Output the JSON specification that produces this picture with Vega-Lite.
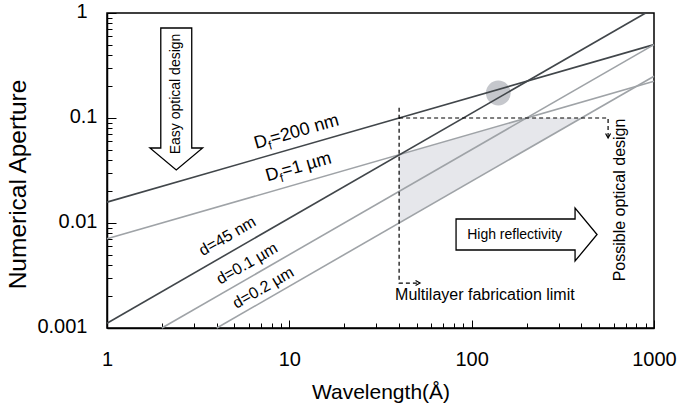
{
  "$schema": "https://vega.github.io/schema/vega-lite/v6.json",
  "width": 547,
  "height": 315,
  "autosize": {"type": "none"},
  "padding": {"left": 107, "top": 13, "right": 25, "bottom": 78},
  "background": "white",
  "config": {
    "font": "Liberation Sans",
    "view": {"stroke": "black", "strokeWidth": 1.5},
    "axis": {"grid": false, "domainColor": "black", "domainWidth": 1.5, "tickColor": "black", "tickWidth": 1, "labelColor": "black", "titleColor": "black", "titleFontWeight": "normal", "labelFont": "Liberation Sans", "titleFont": "Liberation Sans"},
    "text": {"font": "Liberation Sans", "color": "black"}
  },
  "datasets": {
    "lines": [
      {"s": "Df200", "x": 1, "y": 0.01581}, {"s": "Df200", "x": 1000, "y": 0.5},
      {"s": "Df1", "x": 1, "y": 0.00707}, {"s": "Df1", "x": 1000, "y": 0.2236},
      {"s": "d45", "x": 1, "y": 0.001111}, {"s": "d45", "x": 900, "y": 1},
      {"s": "d01", "x": 2, "y": 0.001}, {"s": "d01", "x": 1000, "y": 0.5},
      {"s": "d02", "x": 4, "y": 0.001}, {"s": "d02", "x": 1000, "y": 0.25}
    ],
    "region": [
      {"x": 40, "y": 0.01, "y2": 0.04472},
      {"x": 200, "y": 0.05, "y2": 0.1},
      {"x": 400, "y": 0.1, "y2": 0.1}
    ],
    "dashes": [
      {"seg": "h", "o": 1, "x": 40, "y": 0.1}, {"seg": "h", "o": 2, "x": 560, "y": 0.1}, {"seg": "h", "o": 3, "x": 560, "y": 0.066},
      {"seg": "v", "o": 1, "x": 40, "y": 0.125}, {"seg": "v", "o": 2, "x": 40, "y": 0.00268}, {"seg": "v", "o": 3, "x": 51, "y": 0.00268}
    ],
    "headDown": [{"x": 560, "y": 0.0645}],
    "headRight": [{"x": 52.1, "y": 0.00268}],
    "spot": [{"x": 140, "y": 0.173}],
    "arrowRight": [{"x": 200, "y": 0.00777}],
    "arrowDown": [{"x": 2.398, "y": 0.1517}],
    "labD": [
      {"t": "D", "x": 6.565, "y": 0.0507}, {"t": "=200 nm", "x": 8.045, "y": 0.0561},
      {"t": "D", "x": 7.59, "y": 0.02485}, {"t": "=1 µm", "x": 9.30, "y": 0.02751}
    ],
    "labSub": [{"t": "f", "x": 7.80, "y": 0.0499}, {"t": "f", "x": 9.03, "y": 0.02446}],
    "labd": [
      {"t": "d=45 nm", "x": 4.58, "y": 0.00747},
      {"t": "d=0.1 µm", "x": 5.86, "y": 0.0041},
      {"t": "d=0.2 µm", "x": 7.2, "y": 0.002415}
    ],
    "labHigh": [{"t": "High reflectivity", "x": 172, "y": 0.00769}],
    "labMulti": [{"t": "Multilayer fabrication limit", "x": 38.0, "y": 0.00204}],
    "labEasy": [{"t": "Easy optical design", "x": 2.398, "y": 0.1694}],
    "labPossible": [{"t": "Possible optical design", "x": 651, "y": 0.01656}]
  },
  "encoding": {
    "x": {
      "field": "x", "type": "quantitative",
      "scale": {"type": "log", "domain": [1, 1000], "nice": false},
      "axis": {
        "title": "Wavelength(Å)",
        "values": [1, 2, 3, 4, 5, 6, 7, 8, 9, 10, 20, 30, 40, 50, 60, 70, 80, 90, 100, 200, 300, 400, 500, 600, 700, 800, 900, 1000],
        "labelExpr": "indexof([1,10,100,1000], datum.value) >= 0 ? format(datum.value, '~g') : ''",
        "tickSize": {"condition": {"test": "indexof([1,10,100,1000], datum.value) >= 0", "value": -8}, "value": -5},
        "labelPadding": 45,
        "labelBaseline": "alphabetic",
        "labelFontSize": 20,
        "labelOverlap": false,
        "labelFlush": false,
        "titleFontSize": 21,
        "titleX": 273.5,
        "titleY": 70,
        "titleBaseline": "alphabetic"
      }
    },
    "y": {
      "field": "y", "type": "quantitative",
      "scale": {"type": "log", "domain": [0.001, 1], "nice": false},
      "axis": {
        "title": "Numerical Aperture",
        "values": [0.001, 0.002, 0.003, 0.004, 0.005, 0.006, 0.007, 0.008, 0.009, 0.01, 0.02, 0.03, 0.04, 0.05, 0.06, 0.07, 0.08, 0.09, 0.1, 0.2, 0.3, 0.4, 0.5, 0.6, 0.7, 0.8, 0.9, 1],
        "labelExpr": "indexof([0.001,0.01,0.1,1], datum.value) >= 0 ? format(datum.value, '~g') : ''",
        "tickSize": {"condition": {"test": "indexof([0.001,0.01,0.1,1], datum.value) >= 0", "value": -9}, "value": -5},
        "labelPadding": {"condition": {"test": "datum.value == 1 || datum.value == 0.001", "value": 29}, "value": 19},
        "labelOffset": -2,
        "labelFontSize": 20,
        "labelOverlap": false,
        "labelFlush": false,
        "titleFontSize": 24.5,
        "titleX": -82,
        "titleY": 171,
        "titleBaseline": "alphabetic"
      }
    }
  },
  "layer": [
    {
      "data": {"name": "region"},
      "mark": {"type": "area", "color": "#e6e7eb", "opacity": 1},
      "encoding": {"y2": {"field": "y2"}}
    },
    {
      "data": {"name": "spot"},
      "mark": {"type": "circle", "size": 616, "color": "#c5c7cc", "opacity": 1}
    },
    {
      "data": {"name": "lines"},
      "mark": {"type": "line", "strokeWidth": 1.6},
      "encoding": {
        "color": {"field": "s", "type": "nominal", "legend": null,
          "scale": {"domain": ["Df200", "Df1", "d45", "d01", "d02"], "range": ["#41464a", "#9fa3a7", "#41464a", "#9fa3a7", "#9fa3a7"]}}
      }
    },
    {
      "data": {"name": "dashes"},
      "mark": {"type": "line", "color": "black", "strokeWidth": 1.2, "strokeDash": [4, 3]},
      "encoding": {"detail": {"field": "seg"}, "order": {"field": "o"}}
    },
    {
      "data": {"name": "headDown"},
      "mark": {"type": "point", "shape": "M-1,-1.8L0,0L1,-1.8", "size": 25, "filled": false, "color": "black", "strokeWidth": 1.2, "opacity": 1}
    },
    {
      "data": {"name": "headRight"},
      "mark": {"type": "point", "shape": "M-1.8,-1L0,0L-1.8,1", "size": 25, "filled": false, "color": "black", "strokeWidth": 1.2, "opacity": 1}
    },
    {
      "data": {"name": "arrowRight"},
      "mark": {"type": "point", "shape": "M-1,-0.22L0.688,-0.22L0.688,-0.376L1,0L0.688,0.376L0.688,0.22L-1,0.22Z", "size": 19881, "filled": true, "fill": "white", "stroke": "black", "strokeWidth": 1.3, "opacity": 1}
    },
    {
      "data": {"name": "arrowDown"},
      "mark": {"type": "point", "shape": "M-0.218,-1L0.218,-1L0.218,0.69L0.371,0.69L0,1L-0.371,0.69L-0.218,0.69Z", "size": 20164, "filled": true, "fill": "white", "stroke": "black", "strokeWidth": 1.3, "opacity": 1}
    },
    {
      "data": {"name": "labD"},
      "mark": {"type": "text", "angle": 344, "fontSize": 18, "align": "left", "baseline": "alphabetic"},
      "encoding": {"text": {"field": "t"}}
    },
    {
      "data": {"name": "labSub"},
      "mark": {"type": "text", "angle": 344, "fontSize": 12, "align": "left", "baseline": "alphabetic"},
      "encoding": {"text": {"field": "t"}}
    },
    {
      "data": {"name": "labd"},
      "mark": {"type": "text", "angle": 330, "fontSize": 16, "align": "center", "baseline": "middle"},
      "encoding": {"text": {"field": "t"}}
    },
    {
      "data": {"name": "labHigh"},
      "mark": {"type": "text", "fontSize": 14, "align": "center", "baseline": "middle"},
      "encoding": {"text": {"field": "t"}}
    },
    {
      "data": {"name": "labMulti"},
      "mark": {"type": "text", "fontSize": 16, "align": "left", "baseline": "middle"},
      "encoding": {"text": {"field": "t"}}
    },
    {
      "data": {"name": "labEasy"},
      "mark": {"type": "text", "angle": 270, "fontSize": 14, "align": "center", "baseline": "middle"},
      "encoding": {"text": {"field": "t"}}
    },
    {
      "data": {"name": "labPossible"},
      "mark": {"type": "text", "angle": 270, "fontSize": 16, "align": "center", "baseline": "middle"},
      "encoding": {"text": {"field": "t"}}
    }
  ]
}
